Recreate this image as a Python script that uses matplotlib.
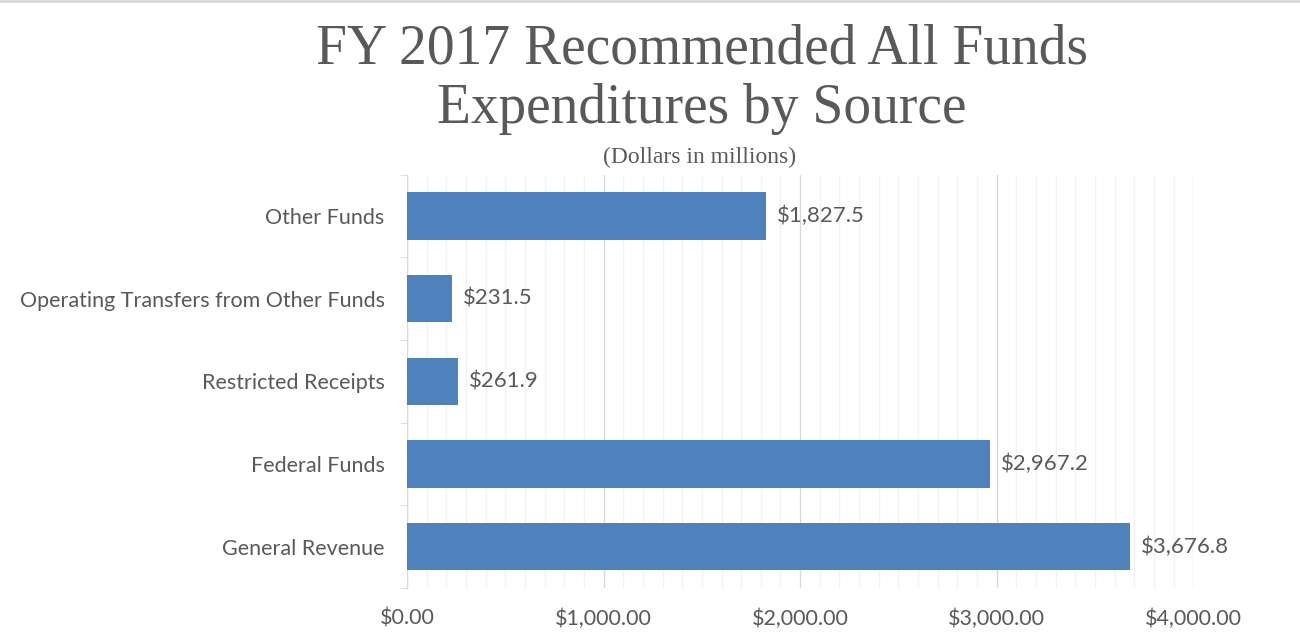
import matplotlib.pyplot as plt
import numpy as np
from matplotlib.ticker import MultipleLocator, FuncFormatter

# data (dollars in millions)
categories = ["General Revenue", "Federal Funds", "Restricted Receipts",
              "Operating Transfers from Other Funds", "Other Funds"]
values = [3676.8, 2967.2, 261.9, 231.5, 1827.5]

bar_color = "#4F81BD"
text_color = "#595959"

fig = plt.figure(figsize=(13, 6.33), dpi=100)
ax = fig.add_axes([0.313, 0.071, 0.605, 0.653])

y = np.arange(len(categories))
ax.barh(y, values, height=0.57, color=bar_color, zorder=3)

# value labels
for yi, v in zip(y, values):
    ax.text(v + 55, yi, f"${v:,.1f}", va="center", ha="left",
            fontsize=16, color=text_color, family="Lato")

ax.set_xlim(0, 4000)
ax.set_ylim(-0.5, len(categories) - 0.5)
ax.set_yticks(y)
ax.set_yticklabels(categories)
ax.yaxis.set_minor_locator(MultipleLocator(1, offset=0.5))
ax.tick_params(axis="y", which="major", length=0, pad=16, labelsize=15.5, labelcolor=text_color)
ax.tick_params(axis="y", which="minor", length=5, color="#D9D9D9")

ax.xaxis.set_major_locator(MultipleLocator(1000))
ax.xaxis.set_minor_locator(MultipleLocator(100))
ax.xaxis.set_major_formatter(FuncFormatter(lambda x, p: f"${x:,.2f}"))
ax.tick_params(axis="x", which="both", length=0, pad=15, labelsize=15.5, labelcolor=text_color)
for lab in ax.get_xticklabels() + ax.get_yticklabels():
    lab.set_family("Lato")

ax.grid(True, axis="x", which="major", color="#D9D9D9", linewidth=1, zorder=0)
ax.grid(True, axis="x", which="minor", color="#F2F2F2", linewidth=1, zorder=0)

for s in ["top", "right", "bottom"]:
    ax.spines[s].set_visible(False)
ax.spines["left"].set_color("#D9D9D9")

fig.text(0.54, 0.875, "FY 2017 Recommended All Funds\nExpenditures by Source",
         ha="center", va="center", fontsize=40, color=text_color,
         family="Liberation Serif", linespacing=1.2)
fig.text(0.538, 0.752, "(Dollars in millions)", ha="center", va="center",
         fontsize=17, color=text_color, family="Liberation Serif")

# thin gray line at the top edge
fig.add_artist(plt.Line2D([0, 1], [0.998, 0.998], color="#D9D9D9", linewidth=2))

plt.savefig("out.png")
